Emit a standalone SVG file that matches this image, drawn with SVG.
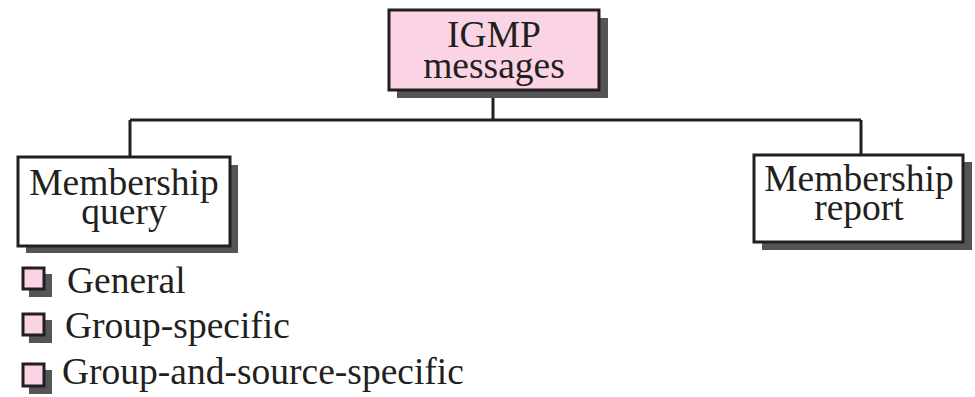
<svg xmlns="http://www.w3.org/2000/svg" width="975" height="397" viewBox="0 0 975 397">
<style>
.shadow{fill:#555556;stroke:none}
.box{fill:#ffffff;stroke:#231f20;stroke-width:3}
.pink{fill:#fad4e4;stroke:#231f20;stroke-width:3}
.t{font-family:"Liberation Serif","Times New Roman",serif;font-size:37.5px;fill:#231f20;text-anchor:middle}
.b{font-family:"Liberation Serif","Times New Roman",serif;font-size:37.5px;fill:#231f20}
.conn{fill:none;stroke:#231f20;stroke-width:3}
</style>
<rect width="975" height="397" fill="#ffffff"/>
<g id="connectors">
<path class="conn" d="M493 90 V120 M130 120 H861 M130 120 V157 M861 120 V155"/>
</g>
<g id="igmp">
<rect class="shadow" x="397" y="18" width="211" height="80"/>
<rect class="pink" x="389" y="10" width="210" height="80"/>
<text class="t" x="494" y="47">IGMP<tspan x="494" y="78">messages</tspan></text>
</g>
<g id="query">
<rect class="shadow" x="26" y="165" width="212" height="88"/>
<rect class="box" x="18" y="157" width="212" height="89"/>
<text class="t" x="124" y="195">Membership<tspan x="124" y="224">query</tspan></text>
</g>
<g id="report">
<rect class="shadow" x="762" y="162" width="210" height="88"/>
<rect class="box" x="754" y="155" width="209" height="87"/>
<text class="t" x="859" y="191">Membership<tspan x="859" y="220">report</tspan></text>
</g>
<g id="bullets">
<rect class="shadow" x="29" y="274" width="23" height="23"/>
<rect class="pink" x="23" y="268" width="21" height="21"/>
<text class="b" x="67" y="293">General</text>
<rect class="shadow" x="29" y="320" width="23" height="23"/>
<rect class="pink" x="23" y="314" width="21" height="21"/>
<text class="b" x="65" y="338">Group-specific</text>
<rect class="shadow" x="29" y="370" width="23" height="24"/>
<rect class="pink" x="23" y="364" width="21" height="22"/>
<text class="b" x="62" y="384">Group-and-source-specific</text>
</g>
</svg>
